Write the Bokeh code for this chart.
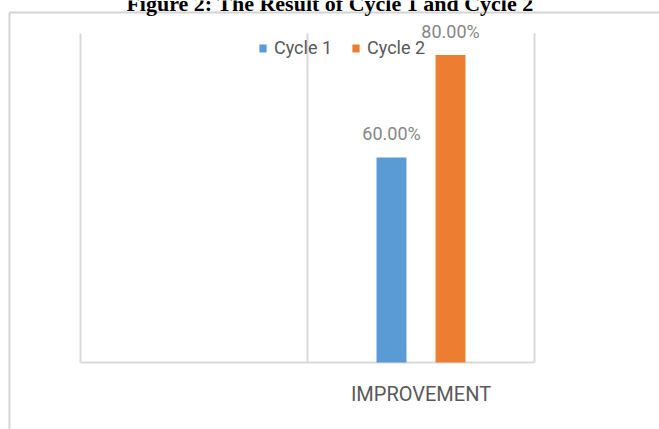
import math
from bokeh.plotting import figure
from bokeh.models import Range1d, Legend, LegendItem, ColumnDataSource
from bokeh.core.properties import value
from bokeh.embed import file_html
from bokeh.resources import INLINE

# ---------------- data ----------------
title_text = "Figure 2: The Result of Cycle 1 and Cycle 2"
categories = ["", "IMPROVEMENT"]
series_names = ["Cycle 1", "Cycle 2"]
cycle1 = [float("nan"), 0.60]
cycle2 = [float("nan"), 0.80]
series_values = [cycle1, cycle2]
series_colors = ["#5b9bd5", "#ed7d31"]
axis_min = 0.20
axis_max = 0.842

# ---------------- layout ----------------
W, H = 659, 429
area_left, area_right, area_top, area_bottom = 80, 534, 33, 362
ncat = len(categories)
ppx = (area_right - area_left) / ncat
ppy = (area_bottom - area_top) / (axis_max - axis_min)

SANS = "Roboto"
GRID = "#d9d9d9"

p = figure(width=W, height=H, output_backend="svg", toolbar_location=None,
           x_range=Range1d(0, W), y_range=Range1d(H, 0),
           x_axis_type=None, y_axis_type=None, min_border=0,
           outline_line_color=None, background_fill_color="white",
           border_fill_color="white")
p.extra_x_ranges = {"cat": Range1d(-area_left / ppx, ncat + (W - area_right) / ppx)}
p.extra_y_ranges = {"val": Range1d(axis_min - (H - area_bottom) / ppy,
                                   axis_max + area_top / ppy)}

# outer chart frame (pixel coordinates)
p.segment(x0=[9, 9], y0=[12, 12], x1=[W, 9], y1=[12, H],
          line_color="#d4d4d4", line_width=2)

# plot area: category separators and base line
p.segment(x0=list(range(ncat + 1)), y0=axis_min, x1=list(range(ncat + 1)), y1=axis_max,
          x_range_name="cat", y_range_name="val", line_color=GRID, line_width=2)
p.segment(x0=[0], y0=[axis_min], x1=[ncat], y1=[axis_min],
          x_range_name="cat", y_range_name="val", line_color=GRID, line_width=2)

# bars
bar_width = 0.132
offsets = [-0.13, 0.13]
renderers = []
for name, vals, col, off in zip(series_names, series_values, series_colors, offsets):
    xs, ys, labs = [], [], []
    for i, v in enumerate(vals):
        if v is None or (isinstance(v, float) and math.isnan(v)):
            continue
        xs.append(i + 0.5 + off)
        ys.append(v)
        labs.append(f"{v:.2%}")
    src = ColumnDataSource(dict(x=xs, top=ys, lab=labs))
    r = p.vbar(x="x", top="top", bottom=axis_min, width=bar_width, source=src,
               fill_color=col, line_color=None,
               x_range_name="cat", y_range_name="val")
    renderers.append(r)
    p.text(x="x", y="top", text="lab", source=src, x_range_name="cat", y_range_name="val",
           y_offset=-24, text_align="center", text_baseline="alphabetic",
           text_font=value(SANS), text_font_size="18px", text_color="#868686")

# category labels
cx = [i + 0.5 for i, c in enumerate(categories) if c]
ct = [c for c in categories if c]
p.text(x=cx, y=[393] * len(cx), text=ct, x_range_name="cat",
       text_align="center", text_baseline="alphabetic",
       text_font=value(SANS), text_font_size="20px", text_color="#595959")

# title (cut off at the top as in the source)
p.text(x=[W / 2], y=[3], text=[title_text], text_align="center",
       text_baseline="alphabetic", text_font=value("Liberation Serif"),
       text_font_style="bold", text_font_size="22px", text_color="black")

legend = Legend(items=[LegendItem(label=n, renderers=[r]) for n, r in zip(series_names, renderers)],
                orientation="horizontal", location=(258, H - 58),
                padding=0, margin=0, spacing=19, glyph_width=9, glyph_height=10,
                label_standoff=7, label_height=20,
                label_text_font=SANS, label_text_font_size="18px",
                label_text_color="#595959",
                background_fill_alpha=0, border_line_alpha=0)
p.add_layout(legend)

open("out.html", "w").write(file_html(p, INLINE))
